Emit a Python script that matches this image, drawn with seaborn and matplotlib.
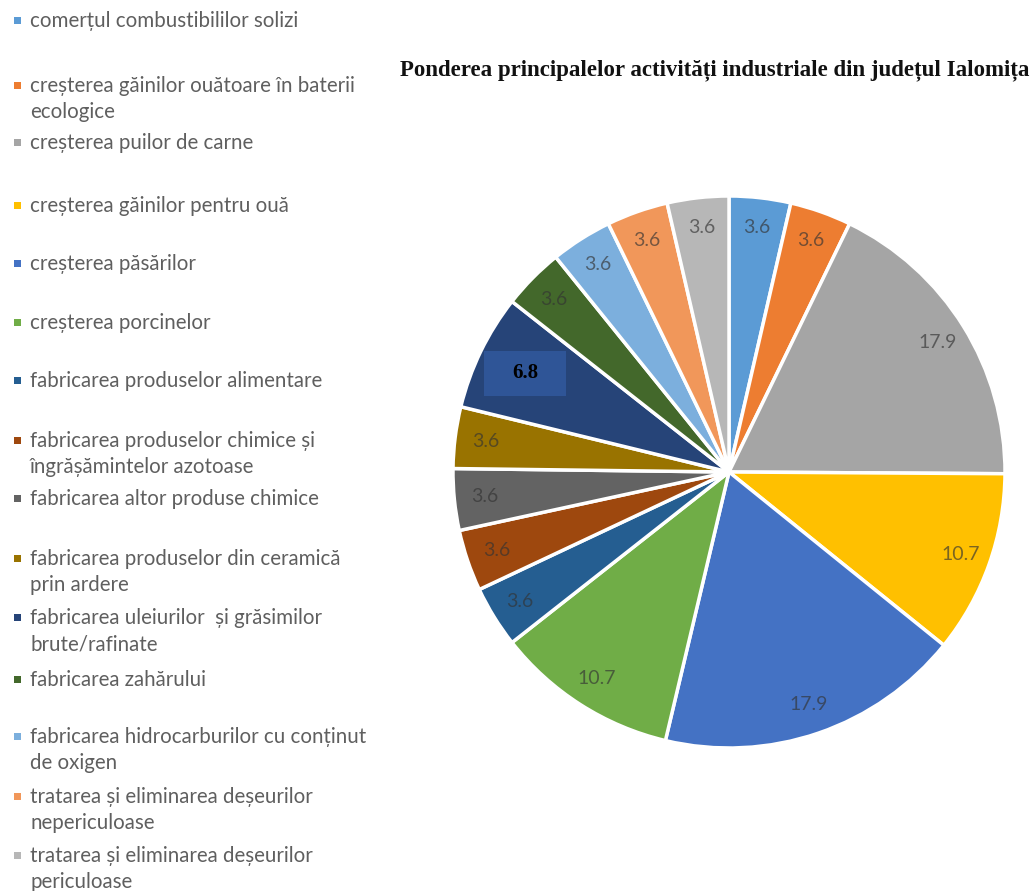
import matplotlib
matplotlib.use("Agg")
import matplotlib.pyplot as plt
import seaborn as sns
from matplotlib.patches import Rectangle

# activitati si ponderi (%)
activitati = [
    "comerțul combustibililor solizi",
    "creșterea găinilor ouătoare în baterii\necologice",
    "creșterea puilor de carne",
    "creșterea găinilor pentru ouă",
    "creșterea păsărilor",
    "creșterea porcinelor",
    "fabricarea produselor alimentare",
    "fabricarea produselor chimice și\nîngrășămintelor azotoase",
    "fabricarea altor produse chimice",
    "fabricarea produselor din ceramică\nprin ardere",
    "fabricarea uleiurilor  și grăsimilor\nbrute/rafinate",
    "fabricarea zahărului",
    "fabricarea hidrocarburilor cu conținut\nde oxigen",
    "tratarea și eliminarea deșeurilor\nnepericuloase",
    "tratarea și eliminarea deșeurilor\npericuloase",
]
ponderi = [3.6, 3.6, 17.9, 10.7, 17.9, 10.7, 3.6, 3.6, 3.6, 3.6, 6.8, 3.6, 3.6, 3.6, 3.6]
etichete = ["3.6", "3.6", "17.9", "10.7", "17.9", "10.7", "3.6", "3.6", "3.6", "3.6",
            "6.8", "3.6", "3.6", "3.6", "3.6"]

culori = ["#5B9BD5", "#ED7D31", "#A5A5A5", "#FFC000", "#4472C4", "#70AD47",
          "#255E91", "#9E480E", "#636363", "#997300", "#264478", "#43682B",
          "#7CAFDD", "#F1975A", "#B7B7B7"]

# pozitia (px de sus) a fiecarei intrari din legenda
leg_y = [20, 85, 142, 205, 263, 322, 380, 440, 498, 558, 617, 679, 736, 796, 855]

sns.set_theme(style="white")
paleta = sns.color_palette(culori)

W, H = 1035, 891
fig = plt.figure(figsize=(W / 100, H / 100), dpi=100)
fig.patch.set_facecolor("white")

# pie: centru ~(729,472), raza ~276 px
cx, cy, r = 729, 472, 276
ax = fig.add_axes([(cx - r) / W, (H - cy - r) / H, 2 * r / W, 2 * r / H])
wedges, _, autotexts = ax.pie(
    ponderi, colors=paleta, startangle=90, counterclock=False,
    autopct="%.1f", pctdistance=0.89, radius=1,
    wedgeprops=dict(edgecolor="white", linewidth=2.5),
    textprops=dict(fontsize=14, color="#333333", alpha=0.65, family="Lato"))
for t, lab in zip(autotexts, etichete):
    t.set_text(lab)
ax.set_xlim(-1, 1)
ax.set_ylim(-1, 1)
ax.set_aspect("equal")
ax.axis("off")

# eticheta evidentiata 6.8
i68 = etichete.index("6.8")
t = autotexts[i68]
x0, y0 = t.get_position()
t.set_position((x0 * 0.82 / 0.89, y0 * 0.82 / 0.89))
x0, y0 = t.get_position()
t.set_fontfamily("Liberation Serif")
t.set_fontweight("bold")
t.set_color("black")
t.set_alpha(1)
t.set_fontsize(15)
bw, bh = 82 / r, 45 / r
ax.add_patch(Rectangle((x0 - bw / 2, y0 - bh / 2), bw, bh, facecolor="#2F5597",
                       edgecolor="none", zorder=3))
t.set_zorder(4)

fig.text(715 / W, 1 - 70 / H,
         "Ponderea principalelor activități industriale din județul Ialomița",
         ha="center", va="center", fontsize=16.5, fontweight="bold",
         family="Liberation Serif", color="#111111")

# legenda manuala
for lab, col, yp in zip(activitati, paleta, leg_y):
    fig.patches.append(Rectangle((14 / W, 1 - (yp + 3.5) / H), 7 / W, 7 / H,
                                 transform=fig.transFigure, facecolor=col,
                                 edgecolor="none"))
    fig.text(30 / W, 1 - (yp - 9) / H, lab, ha="left", va="top",
             fontsize=14.8, family="Lato", color="#5f5f5f", linespacing=1.38)

fig.savefig("out.png", dpi=100, facecolor="white")
